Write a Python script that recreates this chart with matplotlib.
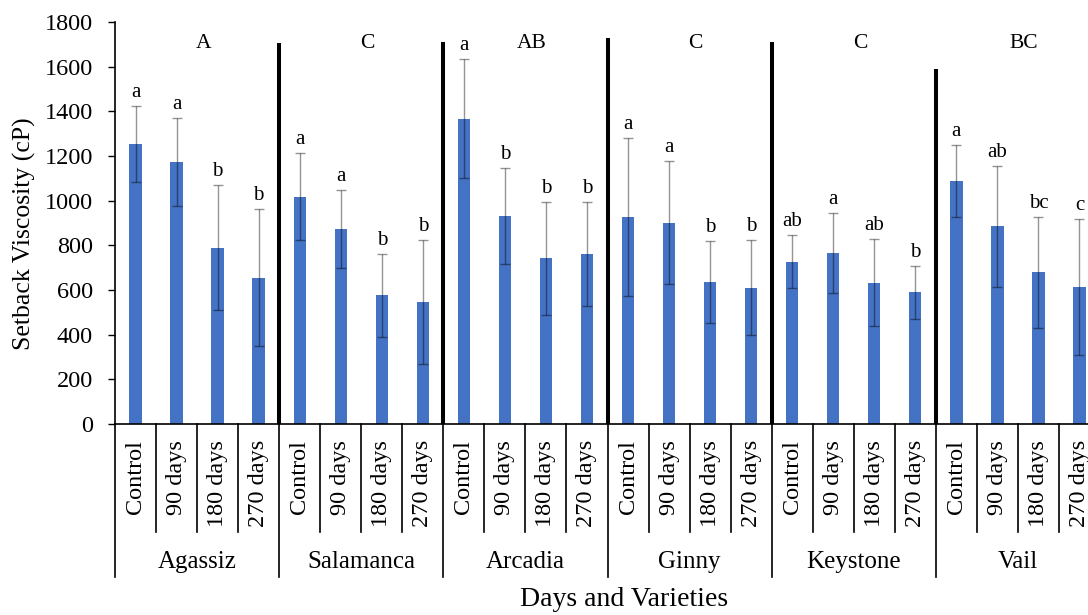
import numpy as np
import matplotlib
matplotlib.use("Agg")
from matplotlib import pyplot as plt
import matplotlib.transforms as mtransforms

plt.rcParams['font.family'] = ['Liberation Serif', 'DejaVu Serif']

varieties = ["Agassiz", "Salamanca", "Arcadia", "Ginny", "Keystone", "Vail"]
treatments = ["Control", "90 days", "180 days", "270 days"]
group_letters = ["A", "C", "AB", "C", "C", "BC"]

means = [1254, 1172, 790, 655,
         1018, 873, 576, 545,
         1367, 933, 742, 763,
         927, 902, 637, 611,
         727, 767, 633, 590,
         1087, 885, 679, 612]
errors = [170, 197, 279, 306,
          194, 175, 185, 278,
          267, 215, 252, 233,
          352, 277, 183, 214,
          119, 179, 194, 119,
          161, 270, 248, 305]
bar_letters = ["a", "a", "b", "b",
               "a", "a", "b", "b",
               "a", "b", "b", "b",
               "a", "a", "b", "b",
               "ab", "a", "ab", "b",
               "a", "ab", "bc", "c"]
# heights of the thick separator lines between varieties
separator_tops = [1706, 1712, 1730, 1712, 1591]

n_t = len(treatments)
n = len(means)
x = np.arange(n) + 0.5

fig = plt.figure(figsize=(10.88, 6.15), dpi=100)
ax = fig.add_axes([115 / 1088, 191 / 615, 985 / 1088, 402 / 615])

ax.bar(x, means, width=0.3, color="#4472C4", zorder=2)
ax.errorbar(x, means, yerr=errors, fmt="none", ecolor="black", alpha=0.42,
            elinewidth=1, capsize=3.5, capthick=1, zorder=3)

for xi, m, e, lab in zip(x, means, errors, bar_letters):
    ax.annotate(lab, (xi, m + e), xytext=(0, 6.5), textcoords="offset points",
                ha="center", va="baseline", fontsize=15)

ax.set_xlim(0, n)
ax.set_ylim(0, 1800)
ax.set_yticks(np.arange(0, 1801, 200))
ax.tick_params(axis="y", labelsize=17.5, length=5, width=1, pad=11)
ax.set_xticks([])
for s in ["top", "right"]:
    ax.spines[s].set_visible(False)
ax.spines["left"].set_linewidth(1.2)
ax.spines["bottom"].set_linewidth(1.2)

# thick separators between varieties
for k, top in enumerate(separator_tops):
    bx = (k + 1) * n_t
    ax.plot([bx, bx], [0, top], color="black", lw=2.9, solid_capstyle="butt", zorder=4)

trans = mtransforms.blended_transform_factory(ax.transData, ax.transAxes)
for b in range(n + 1):
    low = -0.3806 if b % n_t == 0 else -0.2687
    ax.plot([b, b], [0, low], color="black", lw=1.2, transform=trans, clip_on=False)

for i, xi in enumerate(x):
    ax.text(xi, -0.04, treatments[i % n_t], transform=trans, rotation=90,
            ha="center", va="top", fontsize=17.5)

for g, name in enumerate(varieties):
    cx = g * n_t + n_t / 2
    ax.text(cx, -0.343, name, transform=trans, ha="center", va="center", fontsize=18)
    ax.text(cx + 0.15, 1705, group_letters[g], ha="center", va="center", fontsize=15.5)

fig.text(24 / 1088, 1 - 234 / 615, "Setback Viscosity (cP)", rotation=90,
         ha="center", va="center", fontsize=18.5)
fig.text(624 / 1088, 1 - 600 / 615, "Days and Varieties", ha="center", va="center",
         fontsize=20)

fig.savefig("out.png", dpi=100)
